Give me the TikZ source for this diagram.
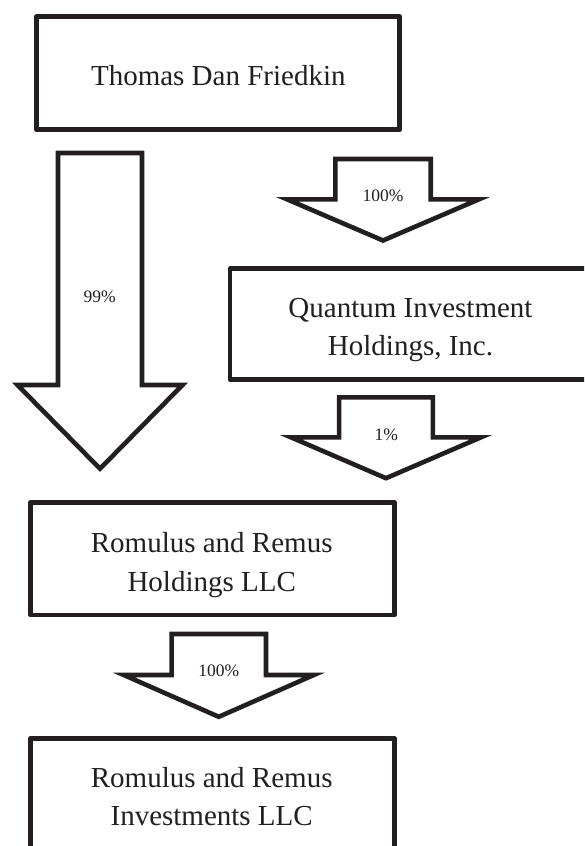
\documentclass[tikz,border=0pt]{standalone}
\usepackage{fontspec}
\setmainfont{Liberation Serif}
\definecolor{ink}{RGB}{35,31,32}
\tikzset{
  entity/.style={draw=ink, line width=4.6pt, line join=round, rectangle, inner sep=0pt},
  blockarrow/.style={draw=ink, line width=4.6pt, line join=miter, miter limit=20, fill=white},
  entitytext/.style={text=ink, anchor=base, inner sep=0pt, font=\fontsize{29}{38.5}\selectfont},
  pct/.style={text=ink, anchor=base, inner sep=0pt, font=\fontsize{17.5}{21}\selectfont},
}
% #1 centre x, #2 top y, #3 shaft half width, #4 wing y, #5 wing half width, #6 tip y
\newcommand\blkarrow[6]{%
  \draw[blockarrow] ({#1-#3},#2) -- ({#1+#3},#2) -- ({#1+#3},#4) -- ({#1+#5},#4)
    -- (#1,#6) -- ({#1-#5},#4) -- ({#1-#3},#4) -- cycle;}
\begin{document}
\begin{tikzpicture}[x=1pt,y=-1pt]
  \useasboundingbox (0,0) rectangle (584,846);
  \fill[white] (0,0) rectangle (584,846);
  \clip (0,0) rectangle (584,846);

  % boxes
  \node[entity, minimum width=363.4pt, minimum height=113.1pt] (tdf) at (218,73.15) {};
  \node[entity, minimum width=361pt, minimum height=111.2pt] (qih) at (410.5,324.1) {};
  \node[entity, minimum width=363.8pt, minimum height=112.4pt] (rrh) at (212.5,558.8) {};
  \node[entity, minimum width=364pt, minimum height=112pt] (rri) at (212.4,794.3) {};

  % box texts
  \node[entitytext] (tdftext) at (218.3,85) {Thomas Dan Friedkin};
  \node[entitytext] (qihtext) at (410.5,317) {\begin{tabular}[t]{@{}c@{}}Quantum Investment\\Holdings, Inc.\end{tabular}};
  \node[entitytext] (rrhtext) at (211.7,552.7) {\begin{tabular}[t]{@{}c@{}}Romulus and Remus\\Holdings LLC\end{tabular}};
  \node[entitytext] (rritext) at (211.7,787.3) {\begin{tabular}[t]{@{}c@{}}Romulus and Remus\\Investments LLC\end{tabular}};

  % block arrows
  \blkarrow{100}{153}{42}{385}{82.5}{468.7}
  \blkarrow{383}{159}{47.7}{199.3}{96}{240.5}
  \blkarrow{386}{397.3}{46.9}{437.3}{95}{478.2}
  \blkarrow{218.8}{634}{47.2}{675}{95}{716.8}

  % percentage labels
  \node[pct] (p99) at (99.7,302.5) {99\%};
  \node[pct] (p100a) at (383,201.5) {100\%};
  \node[pct] (p1) at (386.3,440.5) {1\%};
  \node[pct] (p100b) at (218.8,676.5) {100\%};
\end{tikzpicture}
\end{document}
